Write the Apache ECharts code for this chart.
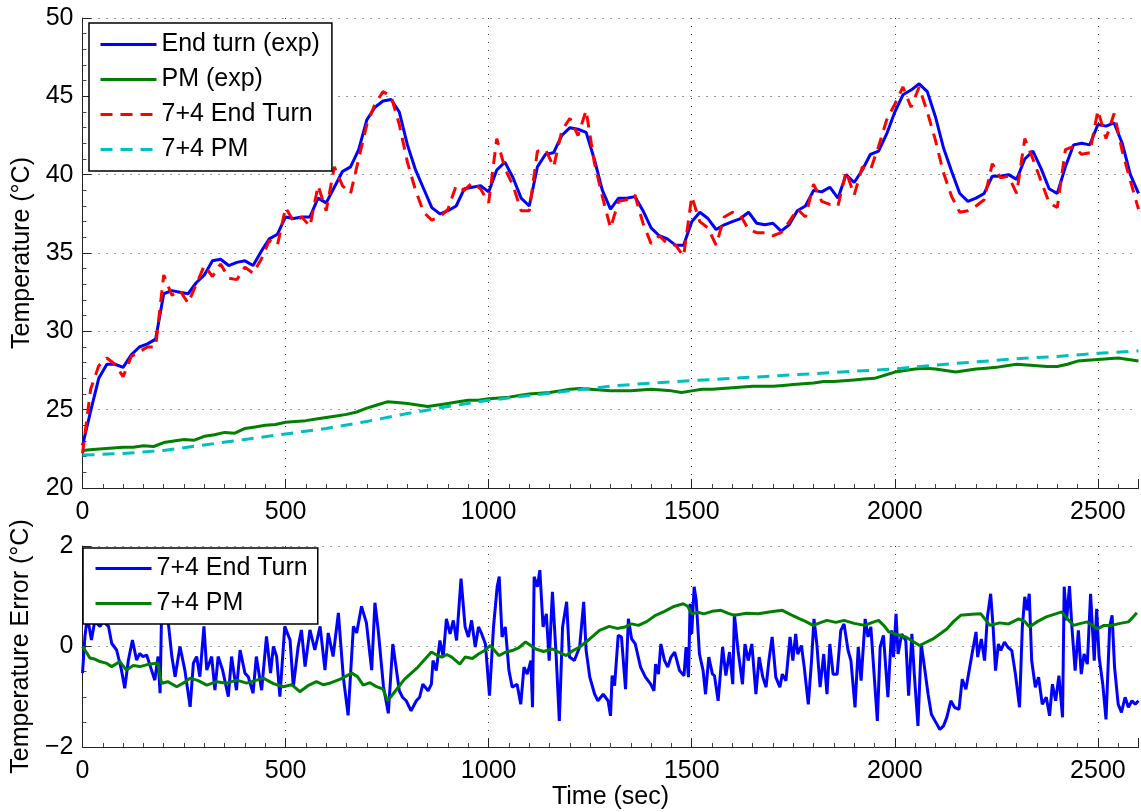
<!DOCTYPE html>
<html>
<head>
<meta charset="utf-8">
<script src="https://cdn.jsdelivr.net/npm/echarts@6/dist/echarts.min.js"></script>
<style>
  html, body { margin: 0; padding: 0; background: #fff; }
  #chart { width: 1141px; height: 812px; }
</style>
</head>
<body>
<div id="chart"></div>
<script>
// top plot, sampled every 20 s
var endTurnExp = [22.7, 24.9, 27.0, 27.9, 27.9, 27.7, 28.5, 29.0, 29.2, 29.5,
  32.4, 32.6, 32.5, 32.4, 33.1, 33.6, 34.5, 34.6, 34.2, 34.4,
  34.5, 34.2, 35.1, 35.9, 36.2, 37.3, 37.2, 37.3, 37.3, 38.5,
  38.2, 39.2, 40.2, 40.5, 41.6, 43.5, 44.3, 44.7, 44.8, 44.0,
  41.9, 40.3, 39.1, 37.9, 37.5, 37.7, 38.0, 39.1, 39.2, 39.3,
  38.9, 40.3, 40.8, 39.8, 38.5, 38.0, 40.5, 41.3, 41.4, 42.5,
  43.0, 42.9, 42.7, 41.0, 39.0, 37.8, 38.5, 38.5, 38.6, 37.7,
  36.6, 36.1, 35.9, 35.5, 35.5, 37.0, 37.6, 37.2, 36.5, 36.8,
  37.0, 37.2, 37.6, 36.9, 36.8, 36.9, 36.4, 36.8, 37.7, 38.0,
  39.0, 38.9, 39.2, 38.5, 40.0, 39.5, 40.3, 41.3, 41.5, 42.6,
  44.0, 45.1, 45.4, 45.8, 45.3, 43.7, 41.7, 40.2, 38.8, 38.3,
  38.5, 38.8, 39.9, 39.9, 40.0, 39.7, 41.0, 41.5, 40.4, 39.1,
  38.8, 40.5, 41.9, 42.0, 41.9, 43.2, 43.1, 43.3, 42.0, 40.0,
  38.8];

var endTurnModel = [22.2, 26.3, 27.8, 28.3, 27.9, 27.1, 28.4, 28.7, 29.0, 29.0,
  33.6, 32.3, 32.6, 31.8, 33.0, 34.2, 33.5, 34.3, 33.4, 33.3,
  34.1, 33.7, 34.6, 35.8, 35.5, 37.9, 37.0, 37.3, 36.7, 39.3,
  37.7, 40.5, 39.3, 38.8, 41.0, 43.2, 44.5, 45.3, 45.0, 43.2,
  40.8, 39.0, 37.6, 37.1, 37.3, 37.8, 39.3, 39.0, 39.5, 39.1,
  38.2, 42.3, 40.4, 39.3, 37.7, 37.7, 41.5, 41.6, 40.5, 42.8,
  43.6, 42.5, 44.1, 40.8, 38.6, 36.6, 38.3, 38.4, 38.7, 36.9,
  35.6, 36.1, 35.6, 35.5, 34.8, 38.6, 37.0, 36.6, 35.5, 37.3,
  37.6, 37.4, 36.5, 36.3, 36.3, 36.1, 36.3, 37.0, 37.8, 37.3,
  39.4, 38.3, 38.1, 38.0, 40.2, 38.7, 40.5, 40.3, 41.8, 43.5,
  44.5, 45.6, 44.3, 45.6, 44.0, 42.2, 40.1, 38.6, 37.6, 37.7,
  38.0, 38.4, 40.7, 39.8, 39.9, 38.8, 42.3, 41.0, 39.6, 38.2,
  37.9, 41.6, 41.8, 41.3, 41.4, 44.1, 42.3, 43.9, 41.5, 39.6,
  37.8];

// every 25 s
var pmExp = [22.4, 22.45, 22.5, 22.55, 22.6, 22.6, 22.7, 22.65, 22.9, 23.0,
  23.1, 23.05, 23.3, 23.4, 23.55, 23.5, 23.8, 23.9, 24.0, 24.05,
  24.2, 24.25, 24.3, 24.4, 24.5, 24.6, 24.7, 24.85, 25.1, 25.3,
  25.5, 25.45, 25.4, 25.3, 25.2, 25.3, 25.4, 25.5, 25.6, 25.6,
  25.7, 25.75, 25.8, 25.9, 26.0, 26.05, 26.1, 26.2, 26.3, 26.35,
  26.3, 26.25, 26.2, 26.2, 26.2, 26.25, 26.3, 26.25, 26.2, 26.1,
  26.2, 26.3, 26.3, 26.35, 26.4, 26.45, 26.5, 26.5, 26.5, 26.55,
  26.6, 26.65, 26.7, 26.8, 26.8, 26.85, 26.9, 26.95, 27.0, 27.2,
  27.4, 27.5, 27.6, 27.65, 27.6, 27.5, 27.4, 27.5, 27.6, 27.65,
  27.7, 27.8, 27.9, 27.85, 27.8, 27.75, 27.75, 27.9, 28.1, 28.15,
  28.2, 28.25, 28.3, 28.2, 28.1];

// every 100 s
var pmModel = [22.1, 22.2, 22.4, 22.75, 23.1, 23.45, 23.8, 24.25, 24.75, 25.2,
  25.6, 25.9, 26.2, 26.5, 26.7, 26.85, 27.0, 27.15, 27.3, 27.45,
  27.6, 27.85, 28.05, 28.25, 28.4, 28.6, 28.75];

// bottom plot, error traces (time, value)
var errEndTime = [0, 6, 12, 22, 30, 43, 51, 64, 72, 84, 96, 104, 113, 123, 133, 141, 149, 158, 170, 178,
  186, 191, 195, 207, 220, 228, 240, 252, 265, 273, 281, 289, 299, 306, 318, 326, 334, 345, 359, 367,
  379, 388, 400, 408, 420, 428, 441, 453, 463, 470, 478, 486, 498, 511, 519, 531, 539, 548, 560, 572,
  585, 597, 605, 617, 630, 642, 654, 667, 675, 687, 699, 712, 720, 728, 741, 753, 764, 772, 780, 788,
  797, 809, 822, 830, 838, 851, 859, 863, 871, 880, 888, 896, 905, 913, 921, 932, 942, 950, 958, 967,
  975, 983, 992, 1002, 1012, 1021, 1026, 1033, 1041, 1050, 1058, 1070, 1079, 1087, 1095, 1104, 1108, 1112, 1120, 1126,
  1134, 1142, 1149, 1157, 1166, 1174, 1182, 1192, 1199, 1211, 1224, 1234, 1240, 1249, 1261, 1269, 1282, 1294, 1300, 1304,
  1310, 1319, 1327, 1337, 1344, 1352, 1361, 1374, 1386, 1399, 1407, 1411, 1418, 1424, 1433, 1441, 1449, 1458, 1470, 1481,
  1486, 1492, 1496, 1500, 1506, 1511, 1519, 1528, 1534, 1542, 1551, 1556, 1565, 1576, 1584, 1593, 1601, 1605, 1614, 1625,
  1631, 1639, 1648, 1658, 1666, 1675, 1683, 1690, 1698, 1707, 1717, 1723, 1732, 1742, 1749, 1756, 1761, 1770, 1777, 1787,
  1795, 1801, 1808, 1816, 1825, 1833, 1840, 1848, 1858, 1867, 1875, 1885, 1892, 1902, 1910, 1917, 1927, 1934, 1941, 1949,
  1957, 1964, 1972, 1983, 1992, 1997, 2003, 2008, 2017, 2027, 2034, 2042, 2048, 2057, 2065, 2073, 2082, 2090, 2099, 2111,
  2120, 2128, 2138, 2147, 2158, 2166, 2175, 2183, 2191, 2200, 2204, 2213, 2221, 2228, 2236, 2242, 2248, 2255, 2261, 2270,
  2278, 2288, 2297, 2307, 2314, 2320, 2326, 2331, 2337, 2346, 2354, 2363, 2373, 2381, 2388, 2396, 2404, 2413, 2417, 2423,
  2430, 2436, 2444, 2452, 2459, 2466, 2474, 2482, 2491, 2497, 2503, 2512, 2520, 2529, 2535, 2541, 2550, 2558, 2567, 2575,
  2584, 2592, 2600];
var errEndVal = [-0.53, 0.2, 0.6, 0.13, 0.5, 0.4, 0.5, 0.4, 0.06, -0.07, -0.47, -0.83, -0.27, 0.13, -0.27, -0.14, -0.2, -0.17, -0.47, -0.67,
  -0.2, -0.93, 0.8, 0.8, -0.2, -0.6, 0, -0.47, -1.2, -0.33, -0.2, -0.6, 0.4, -0.47, -0.2, -0.87, -0.2, -0.47, -1.0, -0.2,
  -0.87, -0.07, -0.53, -0.6, -0.93, -0.2, -0.87, 0.2, -0.53, 0, -0.2, -1.0, 0.4, 0.13, -0.8, 0, 0.33, -0.4, 0.33, -0.07,
  0.4, -0.47, 0.27, -0.2, 0.67, -0.6, -1.37, 0.4, 0.27, 0.8, 0.47, -0.47, 0.87, 0.33, -0.8, -1.33, 0.05, -0.41, -0.88, -1.01,
  -1.08, -1.28, -1.08, -1.01, -0.75, -0.88, -0.75, -0.28, -0.48, 0.12, -0.21, 0.55, 0.25, 0.52, 0.12, 1.35, 0.39, 0.19, 0.52, -0.01,
  0.39, 0.25, 0.05, -0.98, 0.39, 1.19, 1.39, 0.19, 0.39, -0.48, -0.81, -0.75, -1.15, -0.41, -0.55, -0.28, -1.21, 1.39, 1.19, 1.52,
  0.39, 0.65, -0.28, 1.09, -0.15, -1.48, 0.39, 0.89, -0.21, -0.28, -0.01, 0.89, -0.08, -0.61, -0.95, -1.08, -0.95, -1.08, -1.38, -0.58,
  -0.78, 0.22, 0.19, -0.85, 0.55, 0.15, 0.05, -0.41, -0.61, -0.75, -0.88, -0.35, -0.55, 0.05, -0.28, -0.41, -0.21, -0.11, -0.48, -0.58,
  -0.01, -0.61, 0.85, 0.25, 1.19, 0.92, -0.15, -0.48, -0.95, -0.21, -0.55, -0.58, -1.08, -0.01, -0.58, -0.11, -0.75, 0.65, -0.08, -0.75,
  0.05, -0.28, 0.05, -0.95, -0.21, -0.61, -0.81, -0.28, 0.19, -0.61, -0.81, -0.55, -0.68, 0.19, -0.28, 0.25, -0.15, 0.02, -0.41, -1.15,
  -0.28, 0.55, 0.05, -0.81, -0.15, -0.95, 0.05, -0.55, -0.55, 0.32, 0.45, -0.08, -0.28, -1.21, -0.01, -0.68, 0.55, 0.19, 0.39, -0.55,
  -1.48, -0.01, 0.22, -1.01, 0.32, -0.21, 0.65, -0.15, 0.25, 0.12, -0.98, 0.25, -0.55, -1.58, 0.05, -0.41, -0.95, -1.35, -1.48, -1.65,
  -1.58, -1.41, -1.08, -1.21, -1.25, -0.65, -0.85, -0.48, -0.11, 0.29, -0.21, 0.15, -0.28, 0.59, 1.05, 0.39, -0.48, 0.05, -0.08, 0.09,
  -0.01, -0.08, -0.55, -1.21, 0.39, 0.99, 0.72, 1.05, -0.28, -0.81, -0.61, -1.15, -1.01, -1.38, -0.75, -1.08, -0.58, -1.41, 1.19, 0.52,
  1.2, 0.39, -0.48, 0.32, -0.55, -0.15, -0.35, 1.05, -0.28, 0.75, -0.21, -0.75, -1.45, 0.39, 0.62, -0.41, -1.15, -1.31, -1.01, -1.21,
  -1.08, -1.15, -1.08];

var errPmTime = [0, 10, 18, 30, 43, 58, 72, 92, 108, 125, 141, 160, 186, 191, 195, 210, 232, 250, 265, 285,
  306, 330, 355, 380, 404, 425, 445, 470, 494, 515, 535, 555, 576, 592, 609, 635, 663, 677, 691, 708,
  724, 740, 751, 764, 793, 826, 859, 872, 884, 897, 909, 929, 942, 960, 975, 990, 1004, 1025, 1040, 1058,
  1075, 1091, 1116, 1135, 1157, 1175, 1191, 1208, 1224, 1249, 1273, 1297, 1316, 1336, 1352, 1369, 1390, 1411, 1433, 1454,
  1479, 1490, 1500, 1515, 1530, 1550, 1572, 1590, 1605, 1635, 1664, 1695, 1723, 1745, 1766, 1780, 1799, 1815, 1833, 1855,
  1875, 1900, 1926, 1945, 1960, 1975, 1985, 2005, 2027, 2045, 2061, 2094, 2128, 2145, 2162, 2190, 2212, 2234, 2258, 2280,
  2305, 2320, 2331, 2352, 2373, 2392, 2411, 2425, 2440, 2458, 2474, 2487, 2499, 2515, 2533, 2555, 2575, 2586, 2596];
var errPmVal = [0, -0.12, -0.23, -0.25, -0.3, -0.33, -0.4, -0.3, -0.47, -0.38, -0.4, -0.36, -0.33, -0.6, -0.73, -0.7, -0.8, -0.72, -0.63, -0.68,
  -0.77, -0.7, -0.73, -0.67, -0.73, -0.68, -0.63, -0.74, -0.8, -0.76, -0.9, -0.78, -0.7, -0.76, -0.73, -0.65, -0.53, -0.6, -0.77, -0.72,
  -0.8, -0.85, -1.08, -0.95, -0.65, -0.41, -0.11, -0.17, -0.21, -0.16, -0.21, -0.35, -0.21, -0.24, -0.15, -0.08, 0.02, -0.18, -0.12, -0.08,
  -0.02, 0.09, -0.05, -0.1, -0.05, -0.12, -0.18, -0.08, -0.01, 0.15, 0.32, 0.4, 0.36, 0.39, 0.45, 0.42, 0.5, 0.62, 0.7, 0.79,
  0.85, 0.8, 0.65, 0.68, 0.65, 0.7, 0.72, 0.66, 0.62, 0.66, 0.65, 0.69, 0.72, 0.63, 0.55, 0.5, 0.42, 0.47, 0.52, 0.48,
  0.52, 0.46, 0.42, 0.48, 0.52, 0.4, 0.29, 0.24, 0.19, 0.1, 0.02, 0.15, 0.35, 0.5, 0.62, 0.64, 0.65, 0.42, 0.47, 0.45,
  0.55, 0.5, 0.39, 0.5, 0.59, 0.64, 0.69, 0.55, 0.42, 0.46, 0.49, 0.42, 0.35, 0.42, 0.42, 0.46, 0.49, 0.58, 0.67];

function stepped(values, step) {
  return values.map(function (v, i) { return [i * step, v]; });
}
function paired(times, values) {
  return times.map(function (t, i) { return [t, values[i]]; });
}

var FONT = "'Liberation Sans', Arial, sans-serif";
var chart = echarts.init(document.getElementById('chart'));

function xAxisCfg(idx, name) {
  return {
    type: 'value', gridIndex: idx, min: 0, max: 2600, interval: 500,
    name: name || '', nameLocation: 'middle', nameGap: 38,
    nameTextStyle: { fontSize: 25, color: '#000', fontFamily: FONT },
    axisLine: { show: true, onZero: false, lineStyle: { color: '#222', width: 1 } },
    axisTick: { show: true, inside: true, length: 9, lineStyle: { color: '#222' } },
    minorTick: { show: true, splitNumber: 10, length: 4, lineStyle: { color: '#444' } },
    splitLine: {
      show: true, showMinLine: false, showMaxLine: false,
      lineStyle: { type: [1, 7], color: '#333', width: 1 }
    },
    axisLabel: {
      fontSize: 25, color: '#000', fontFamily: FONT, margin: 12, showMaxLabel: false,
      formatter: function (v) { return String(v); }
    }
  };
}
function yAxisCfg(idx, name, min, max, interval, minor) {
  return {
    type: 'value', gridIndex: idx, min: min, max: max, interval: interval,
    name: name, nameLocation: 'middle', nameGap: 42,
    nameTextStyle: { fontSize: 25, color: '#000', fontFamily: FONT },
    axisLine: { show: true, onZero: false, lineStyle: { color: '#222', width: 1 } },
    axisTick: { show: true, inside: true, length: 9, lineStyle: { color: '#222' } },
    minorTick: { show: true, splitNumber: minor, length: 4, lineStyle: { color: '#444' } },
    splitLine: {
      show: true, showMinLine: false,
      lineStyle: { type: [1, 7], color: '#333', width: 1 }
    },
    axisLabel: {
      fontSize: 25, color: '#000', fontFamily: FONT, margin: 9,
      formatter: function (v) { return String(v).replace('-', '\u2212'); }
    }
  };
}

function line(name, data, color, dashed, xi) {
  return {
    name: name, type: 'line', xAxisIndex: xi, yAxisIndex: xi,
    data: data, symbol: 'none', showSymbol: false, animation: false,
    lineStyle: { color: color, width: 3, type: dashed ? [12, 8] : 'solid' },
    itemStyle: { color: color }
  };
}

var legendBase = {
  orient: 'vertical', itemWidth: 56, itemHeight: 14, itemGap: 10,
  itemStyle: { opacity: 0 },
  lineStyle: { width: 3 },
  backgroundColor: '#fff', borderColor: '#000', borderWidth: 1.5, borderRadius: 0,
  textStyle: { fontSize: 25, color: '#000', fontFamily: FONT },
  formatter: function (n) { return n.trim(); },
  selectedMode: false, z: 10
};

var option = {
  animation: false,
  grid: [
    { left: 82.5, right: 2.5, top: 18, height: 470 },
    { left: 82.5, right: 2.5, top: 546, height: 201 }
  ],
  xAxis: [xAxisCfg(0), xAxisCfg(1, 'Time (sec)')],
  yAxis: [
    yAxisCfg(0, 'Temperature (\u00b0C)', 20, 50, 5, 5),
    yAxisCfg(1, 'Temperature Error (\u00b0C)', -2, 2, 2, 4)
  ],
  legend: [
    Object.assign({}, legendBase, {
      left: 89, top: 23, padding: [9, 12, 9, 10],
      data: ['End turn (exp)', 'PM (exp)', '7+4 End Turn', '7+4 PM']
    }),
    Object.assign({}, legendBase, {
      left: 83, top: 548, padding: [8, 10, 8, 11],
      data: ['7+4 End Turn ', '7+4 PM ']
    })
  ],
  series: [
    line('End turn (exp)', stepped(endTurnExp, 20), '#0000ff', false, 0),
    line('PM (exp)', stepped(pmExp, 25), '#008000', false, 0),
    line('7+4 End Turn', stepped(endTurnModel, 20), '#ff0000', true, 0),
    line('7+4 PM', stepped(pmModel, 100), '#00bfbf', true, 0),
    line('7+4 End Turn ', paired(errEndTime, errEndVal), '#0000ff', false, 1),
    line('7+4 PM ', paired(errPmTime, errPmVal), '#008000', false, 1)
  ]
};

chart.setOption(option);
window.addEventListener('resize', function () {
  chart.resize();
});
</script>
</body>
</html>
